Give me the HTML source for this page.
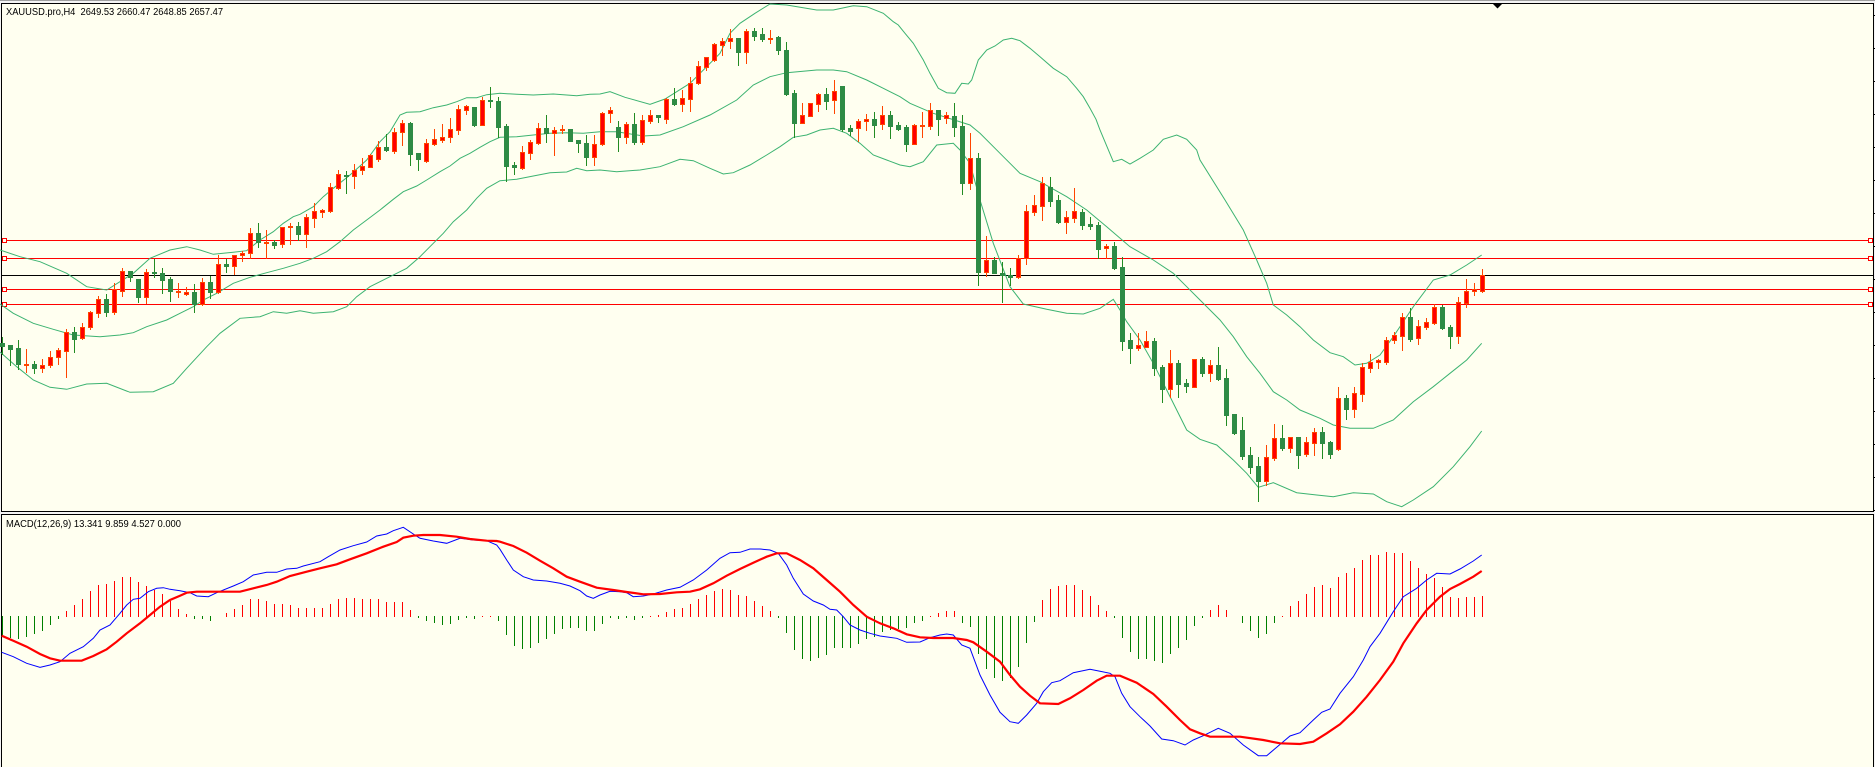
<!DOCTYPE html>
<html><head><meta charset="utf-8">
<style>
html,body{margin:0;padding:0;background:#fff;overflow:hidden;}
svg{display:block}
text{font-family:"Liberation Sans",sans-serif;font-size:10px;fill:#000;white-space:pre}
</style></head><body>
<svg id="c" xmlns="http://www.w3.org/2000/svg" width="1875" height="767" viewBox="0 0 1875 767" shape-rendering="crispEdges">
<rect x="0" y="0" width="1875" height="767" fill="#f4f4f4"/>
<rect x="0" y="0" width="1875" height="1" fill="#a0a0a0"/>
<!-- main panel -->
<rect x="1" y="3" width="1873" height="509" fill="#000"/>
<rect x="2" y="4" width="1871" height="507" fill="#fffff0"/>
<!-- macd panel -->
<rect x="1" y="514" width="1873" height="260" fill="#000"/>
<rect x="2" y="515" width="1871" height="260" fill="#fffff0"/>
<g id="ticks"></g>
<!-- horizontal lines -->
<g>
<rect x="2" y="240" width="1871" height="1" fill="#ff0000"/>
<rect x="2" y="258" width="1871" height="1" fill="#ff0000"/>
<rect x="2" y="275" width="1871" height="1" fill="#000000"/>
<rect x="2" y="289" width="1871" height="1" fill="#ff0000"/>
<rect x="2" y="304" width="1871" height="1" fill="#ff0000"/>
<rect x="2.5" y="238.5" width="4" height="4" fill="#fffff0" stroke="#ff0000"/>
<rect x="2.5" y="256.5" width="4" height="4" fill="#fffff0" stroke="#ff0000"/>
<rect x="2.5" y="287.5" width="4" height="4" fill="#fffff0" stroke="#ff0000"/>
<rect x="2.5" y="302.5" width="4" height="4" fill="#fffff0" stroke="#ff0000"/>
<rect x="1868.5" y="238.5" width="4" height="4" fill="#fffff0" stroke="#ff0000"/>
<rect x="1868.5" y="256.5" width="4" height="4" fill="#fffff0" stroke="#ff0000"/>
<rect x="1868.5" y="287.5" width="4" height="4" fill="#fffff0" stroke="#ff0000"/>
<rect x="1868.5" y="302.5" width="4" height="4" fill="#fffff0" stroke="#ff0000"/>
</g>
<g id="bands" fill="none" stroke="#3cb371" stroke-width="1" shape-rendering="auto"></g>
<g id="candles"></g>
<g id="hist"></g>
<g id="macd" fill="none" shape-rendering="auto"></g>
<polygon points="1493,4 1502,4 1497.5,8.5" fill="#000" shape-rendering="auto"/>
<text x="6" y="15" textLength="217" lengthAdjust="spacingAndGlyphs">XAUUSD.pro,H4  2649.53 2660.47 2648.85 2657.47</text>
<text x="6" y="527" textLength="175" lengthAdjust="spacingAndGlyphs">MACD(12,26,9) 13.341 9.859 4.527 0.000</text>
</svg>
<script>
(function(){
var NS="http://www.w3.org/2000/svg";
function el(tag,a,p){var e=document.createElementNS(NS,tag);for(var k in a)e.setAttribute(k,a[k]);p.appendChild(e);return e;}
function pts(list){var o=[];list.forEach(function(s){var x0=s[0],y0=s[1];s[2].forEach(function(p){o.push((x0+p[0]/3).toFixed(1)+','+(y0+p[1]/3).toFixed(1));});});return o.join(' ');}

// ticks
var tg=document.getElementById('ticks');
for(var ty=15;ty<511;ty+=33){el('rect',{x:1874,y:ty,width:1,height:1,fill:'#000'},tg);}

// candles: [type, bodyTop, bodyBottom, wickTop, wickBottom] in zoom-scaled units
var segs=[
[60,[
['g',850,858,830,882],['g',856,866,856,916],['g',865,913,840,928],['r',912,914,866,935],['g',912,925,902,938],
['r',915,925,897,935],['r',891,916,872,922],['r',870,892,863,911],['r',815,872,808,950],['g',816,836,800,875],
['r',801,835,790,836],['r',756,800,752,806],['r',717,758,708,770],['g',717,755,702,767],['r',686,755,670,761],
['r',633,692,625,707],['g',634,650,634,662],['g',657,710,657,725],['r',636,710,627,728],['g',636,640,597,650],
['g',640,659,624,700],['g',657,694,650,722],['r',692,694,669,710],['r',697,703,682,706],['g',697,732,672,755],
['r',666,732,655,736],['g',666,695,648,713],['r',612,697,585,700],['g',613,617,598,636],['r',586,619,586,641],
['r',579,586,573,602],['r',520,580,505,595],['g',520,547,490,562],['r',546,548,510,594],['g',546,556,540,563],
['r',502,553,500,561],['r',497,500,490,551],['g',498,523,487,540]
]],
[60,[
['r',471,523,462,560],['r',453,473,428,500],['r',450,455,447,470],['r',382,452,370,455],['r',342,383,330,386],
['g',344,346,333,400],['r',330,347,312,383],['r',319,331,294,341],['r',285,320,282,322],['r',262,298,242,302],
['g',262,270,222,272],['r',216,272,203,278],['r',188,217,180,255],['g',189,281,186,315],['g',280,298,280,330],
['r',250,302,237,305],['r',238,253,207,255],['r',232,240,192,245],['r',208,232,174,245],['r',147,209,136,222],
['r',139,149,135,163],['g',141,195,141,197],['r',120,194,112,196],['g',121,123,80,140],['g',124,200,112,230],
['g',198,317,192,362],['g',316,322,306,343],['r',276,323,258,326],['r',246,278,240,296],['r',204,249,188,251],
['g',204,218,165,245],['r',210,218,201,285],['r',208,210,195,220],['g',207,242,207,242],['g',240,250,240,276],
['g',249,290,225,315],['r',253,290,225,315]
]],
[0,[
['r',340,433,335,435],['r',331,340,322,365],['g',381,410,363,452],['r',373,410,365,428],['g',372,425,340,432],
['r',360,425,345,433],['r',346,362,330,370],['g',345,352,345,365],['r',298,358,293,368],['g',297,311,264,316],
['r',294,311,270,332],['r',250,296,232,332],['r',198,250,183,252],['r',172,200,172,210],['r',132,180,128,182],
['r',124,134,113,165],['r',114,124,88,145],['g',114,155,114,195],['r',93,155,88,188],['g',93,107,85,120],
['g',102,116,85,122],['r',113,116,90,128],['g',111,151,108,162],['g',151,281,126,285],['g',280,368,270,412],
['r',345,368,310,368],['r',310,347,310,347],['r',282,311,280,333],['g',282,302,264,327],['r',273,301,240,338],
['g',259,386,259,392],['g',384,392,375,405],['r',363,385,357,422],['r',357,364,342,390],['g',357,374,337,410],
['r',345,373,318,387],['g',345,377,333,413],['g',375,387,366,390]
]],
[100,[
['g',82,131,75,152],['r',75,131,72,133],['r',74,76,37,110],['r',30,77,10,87],['g',30,58,30,104],
['r',45,55,35,68],['g',48,80,10,107],['g',78,250,45,281],['r',175,250,100,267],['g',175,515,160,555],
['r',481,515,408,527],['g',481,518,470,518],['g',518,524,487,605],['g',526,530,505,555],['r',475,530,465,533],
['r',333,475,315,492],['r',316,335,285,345],['r',250,317,232,360],['g',262,302,232,318],['g',300,366,285,368],
['r',352,365,333,398],['r',334,353,264,366],['g',337,374,328,387],['g',372,377,351,387],['g',375,446,365,475],
['r',438,445,433,475],['g',438,503,427,507],['g',501,722,470,750],['g',720,743,698,788],['r',736,743,698,750],
['r',724,740,693,740],['g',723,803,714,825],['g',801,866,795,905],['r',790,866,750,890],['g',790,851,780,890],
['g',849,857,838,876],['r',777,860,777,860]
]],
[200,[
['g',477,518,470,527],['r',495,518,480,543],['g',495,537,440,540],['g',534,645,507,675],['g',642,699,642,702],
['g',690,768,650,777],['g',765,800,740,818],['g',798,842,770,902],['r',771,842,735,855],['r',715,773,672,780],
['g',714,744,675,750],['r',712,743,710,755],['g',711,764,711,803],['r',726,763,712,768],['r',697,728,683,765],
['g',697,728,680,773],['g',726,761,723,773],['r',594,747,560,750],['g',594,626,585,657],['r',579,626,560,650],
['r',501,581,490,602],['r',485,503,462,516],['r',481,485,478,503],['r',420,486,410,492],['r',405,421,395,430],
['r',351,407,340,450],['g',351,416,325,422],['r',378,415,360,432],['r',366,380,355,387],['r',321,368,313,372],
['g',321,384,316,388],['g',381,407,375,443],['r',306,407,290,428],['r',273,308,237,320],['r',267,273,248,285],
['r',226,272,207,275]
]]
];
var cg=document.getElementById('candles');
var k=0;
segs.forEach(function(s){
  var y0=s[0];
  s[1].forEach(function(c){
    var T=function(v){return Math.round(y0+v/3);};
    var cx=2+8*k;
    var bt=T(c[1]),bb=T(c[2]),wt=T(c[3]),wb=T(c[4]);
    if(bb<bt+1)bb=bt+1;
    if(wt>bt)wt=bt; if(wb<bb)wb=bb;
    var red=c[0]==='r';
    el('rect',{x:cx,y:wt,width:1,height:wb-wt+1,fill:red?'#ff4500':'#228b22'},cg);
    el('rect',{x:cx-2,y:bt,width:5,height:bb-bt+1,fill:red?'#ff4500':'#2e8b45'},cg);
    if(red&&bb-bt+1>2){el('rect',{x:cx-1,y:bt+1,width:3,height:bb-bt-1,fill:'#ff0000'},cg);}
    k++;
  });
});

// bands
var bg=document.getElementById('bands');
var upper=[
[0,60,[[0,570],[60,590],[120,605],[200,640],[260,680],[320,690],[400,640],[450,595],[510,570],[560,560],[600,570],[640,583],[700,577],[740,572],[780,540],[820,515],[850,490],[880,470],[900,463]]],
[300,60,[[40,440],[70,410],[100,385],[150,345],[200,300],[240,245],[270,215],[300,165],[320,157],[360,155],[400,143],[440,135],[470,125],[500,113],[530,113],[560,104],[600,100],[650,103],[700,105],[760,102],[800,105],[830,107],[870,103],[900,102]]],
[600,0,[[30,275],[75,292],[150,313],[195,297],[270,250],[360,160],[390,100],[420,70],[465,40],[510,12],[560,15],[650,30],[700,30],[760,17],[800,20],[850,40],[880,65]]],
[880,0,[[55,75],[75,100],[100,130],[130,180],[150,220],[175,265],[200,278],[225,280],[245,250],[265,252],[275,240],[295,180],[320,150],[345,138],[370,120],[395,115],[420,122],[450,145],[480,170],[520,205],[560,230],[590,265],[610,290],[630,325],[648,358]]],
[900,100,[[600,90],[640,185],[665,178],[690,192],[720,175],[760,150],[790,118],[830,105],[860,118],[890,150],[900,180]]],
[1200,200,[[75,0],[130,90],[170,180],[200,250],[220,315],[260,345],[300,380],[340,420],[390,458],[430,470],[465,495],[500,490],[540,465],[580,410],[640,320],[700,240],[750,225],[800,195],[845,165]]]
];
var middle=[
[0,60,[[0,732],[40,760],[100,790],[160,808],[220,825],[300,830],[360,825],[400,818],[440,800],[500,780],[540,760],[580,740],[610,720],[650,700],[700,670],[750,652],[800,638],[850,625],[900,610]]],
[300,60,[[40,595],[80,575],[120,545],[160,510],[200,480],[240,450],[280,418],[310,395],[350,378],[380,360],[420,335],[450,318],[480,295],[510,280],[540,262],[570,245],[600,232],[650,230],[700,225],[750,220],[800,218],[850,220],[900,215]]],
[600,0,[[50,395],[130,408],[180,405],[250,380],[330,345],[410,300],[460,255],[510,230],[560,218],[650,210],[700,210],[740,215],[800,240],[850,265],[900,290]]],
[900,100,[[30,10],[100,40],[210,75],[240,100],[300,160],[360,220],[420,245],[500,290],[560,330],[620,380],[690,440],[760,480],[820,520],[860,560],[900,600]]],
[1200,200,[[60,360],[100,410],[140,470],[180,520],[220,575],[260,600],[300,630],[360,655],[400,675],[450,685],[520,685],[580,660],[640,605],[700,560],[750,520],[800,480],[845,430]]]
];
var lower=[
[0,60,[[0,876],[50,920],[100,960],[150,982],[200,988],[260,972],[320,970],[390,997],[460,995],[520,970],[560,925],[620,860],[660,820],[720,775],[780,770],[820,755],[860,760],[900,752]]],
[300,60,[[40,760],[100,755],[140,740],[170,710],[210,680],[260,655],[320,625],[360,590],[400,550],[430,520],[460,485],[500,450],[530,415],[560,385],[600,362],[650,358],[700,348],[750,338],[800,336],[830,325],[860,332],[900,330]]],
[600,0,[[50,515],[120,510],[180,500],[240,478],[280,482],[330,505],[370,522],[400,518],[450,495],[500,465],[540,440],[580,412],[620,405],[660,390],[700,385],[740,400],[780,430],[820,465],[860,480],[900,495]]],
[900,100,[[30,200],[70,185],[110,135],[160,130],[180,150],[210,190],[240,300],[280,430],[330,560],[370,612],[440,628],[500,640],[550,642],[600,625],[640,598],[660,630],[680,665],[720,720],[760,790],[800,870],[830,930],[860,990],[900,1018]]],
[1200,200,[[50,735],[100,780],[140,820],[175,862],[220,848],[290,878],[350,885],[400,890],[460,878],[520,882],[560,905],[605,920],[640,900],[700,860],[760,800],[810,740],[845,693]]]
];
[upper,middle,lower].forEach(function(b){el('polyline',{points:pts(b)},bg);});

// histogram
var hv=[380,383,386,380,372,362,345,327,303,285,267,242,225,222,213,202,202,215,228,240,252,272,297,313,328,328,332,320,310,297,285,268,268,272,282,282,285,294,294,294,294,282,266,264,264,267,267,267,275,275,275,300,325,332,340,344,343,330,323,326,317,317,333,
375,408,416,413,398,386,372,356,353,353,362,362,341,322,327,322,330,322,318,315,305,298,293,282,266,255,243,237,240,255,258,272,288,303,325,368,420,446,452,444,435,414,414,414,402,388,380,366,359,356,353,340,332,318,308,302,302,338,350,432,476,503,
512,505,470,398,335,270,237,228,225,225,240,258,285,303,324,383,425,446,446,452,458,432,413,390,347,324,300,285,300,320,340,362,383,371,340,318,288,273,252,231,225,234,201,188,174,150,135,135,126,129,129,153,174,192,204,231,261,264,261,261,258];
var hg=document.getElementById('hist');
var Z=617;
hv.forEach(function(s,i){
  var y=Math.round(510+s/3), x=2+8*i;
  if(s<319.5){ if(y>=Z) y=Z-1; el('rect',{x:x,y:y,width:1,height:Z-y,fill:'#ff0000'},hg); }
  else if(s>320.5){ if(y<=Z) y=Z+1; el('rect',{x:x,y:Z-1,width:1,height:y-Z+1,fill:'#008000'},hg); }
});

// macd lines
var mg=document.getElementById('macd');
var blue=[
[0,510,[[5,427],[40,440],[80,460],[120,472],[150,465],[180,455],[210,430],[250,410],[280,385],[300,360],[330,345],[360,310],[380,285],[400,268],[420,265],[445,245],[470,235],[490,233],[510,238],[540,242],[570,248],[590,258],[625,260],[650,248],[700,228],[730,215],[760,195],[800,187],[830,187],[860,177],[890,175],[910,168],[960,155],[985,140],[1020,120],[1060,107],[1100,96],[1130,78],[1160,72],[1180,62],[1210,52],[1240,72],[1260,85],[1300,93],[1340,100],[1380,85],[1420,90],[1460,92],[1490,105]]],
[500,510,[[0,118],[20,150],[40,180],[70,200],[100,210],[140,213],[180,220],[210,228],[240,242],[260,258],[280,265],[300,255],[330,244],[360,245],[380,248],[400,260],[430,258],[460,252],[500,240],[540,232],[580,210],[620,180],[660,145],[690,128],[720,127],[750,117],[780,117],[810,120],[835,130],[860,165],[880,205],[910,252],[940,273],[970,285],[990,298],[1010,300],[1030,320],[1050,345],[1080,360],[1110,370],[1140,378],[1190,385],[1220,397],[1260,396],[1290,383],[1320,375],[1340,372],[1360,375],[1385,405],[1410,415],[1440,495],[1470,555]]],
[1000,510,[[0,607],[30,635],[55,640],[80,615],[110,580],[130,545],[155,518],[180,512],[220,488],[270,478],[300,484],[330,490],[345,500],[365,550],[390,590],[420,620],[450,648],[485,687],[520,692],[555,705],[580,690],[610,677],[655,655],[690,670],[730,705],[775,737],[800,737],[830,712],[870,678],[900,668],[940,630],[965,607],[990,597],[1020,550],[1060,500],[1090,450],[1110,410],[1140,370],[1180,305],[1210,260],[1250,235],[1280,210],[1310,190],[1350,192],[1380,177],[1420,153],[1445,135]]]
];
var redl=[
[0,510,[[5,377],[40,392],[80,410],[120,432],[150,445],[180,452],[245,452],[280,438],[320,418],[350,395],[380,370],[420,340],[450,315],[480,290],[510,270],[540,257],[560,248],[590,245],[720,245],[760,235],[800,225],[830,215],[870,198],[920,185],[960,175],[1010,163],[1050,148],[1100,130],[1150,110],[1190,96],[1210,83],[1240,77],[1270,75],[1320,75],[1370,80],[1410,87],[1460,92],[1490,93]]],
[500,510,[[0,95],[40,108],[80,128],[120,152],[160,175],[200,200],[240,215],[290,233],[340,240],[380,246],[430,253],[480,252],[530,247],[570,245],[600,238],[640,220],[680,197],[720,177],[760,158],[800,140],[830,130],[860,130],[900,150],[940,175],[980,210],[1020,245],[1060,285],[1100,320],[1140,340],[1180,355],[1220,373],[1260,382],[1300,384],[1360,384],[1400,390],[1420,397],[1460,425]]],
[1000,510,[[0,455],[30,495],[60,530],[90,557],[120,580],[175,582],[210,565],[250,540],[290,512],[320,497],[360,497],[410,518],[460,552],[500,590],[540,630],[570,658],[600,670],[630,680],[720,680],[790,690],[840,700],[900,702],[940,695],[980,670],[1020,643],[1060,605],[1100,560],[1140,510],[1180,455],[1210,400],[1250,340],[1280,300],[1320,260],[1350,237],[1380,222],[1420,200],[1445,183]]]
];
el('polyline',{points:pts(blue),stroke:'#0000ff','stroke-width':1},mg);
el('polyline',{points:pts(redl),stroke:'#ff0000','stroke-width':2.2},mg);
})();
</script>
</body></html>
